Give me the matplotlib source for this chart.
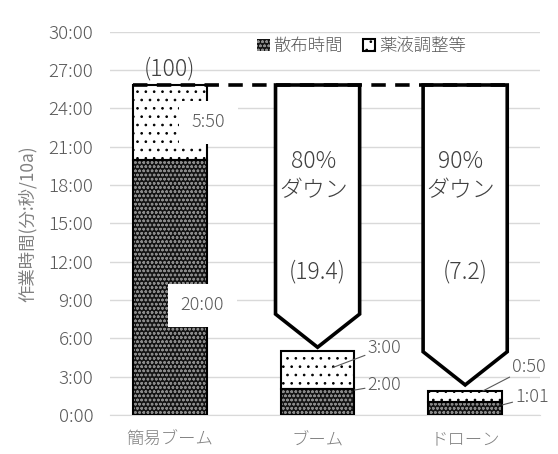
import matplotlib.pyplot as plt
from matplotlib.patches import Patch, Polygon
from matplotlib.ticker import FixedLocator, FuncFormatter

plt.rcParams['font.family'] = ['Noto Sans CJK JP', 'DejaVu Sans']
plt.rcParams['font.weight'] = 'light'
plt.rcParams['hatch.linewidth'] = 0.7

# work time per 10a, in minutes
categories = ['簡易ブーム', 'ブーム', 'ドローン']
spray_time = [20.0, 2.0, 1 + 1 / 60]
prep_time = [5 + 50 / 60, 3.0, 50 / 60]
spray_labels = ['20:00', '2:00', '1:01']
prep_labels = ['5:50', '3:00', '0:50']
index_labels = ['(100)', '(19.4)', '(7.2)']
down_labels = [None, '80%\nダウン', '90%\nダウン']
legend_names = ['散布時間', '薬液調整等']

GRID = '#d9d9d9'
TXT = '#595959'
DARK = '#141414'
DARK_HATCH = '#8a8a8a'

fig = plt.figure(figsize=(5.58, 4.54), dpi=100)
ax = fig.add_axes([0.197, 0.086, 0.771, 0.844])

x = list(range(len(categories)))
w = 0.5
totals = [a + b for a, b in zip(spray_time, prep_time)]

# dark patterned segment (light hatch on near-black), then dotted segment
ax.bar(x, spray_time, w, color=DARK, edgecolor=DARK_HATCH, hatch='oooo', lw=0, zorder=2)
ax.bar(x, prep_time, w, bottom=spray_time, color='white', edgecolor='black', hatch='..',
       lw=0, zorder=2)
ax.bar(x, spray_time, w, fill=False, edgecolor='black', lw=1.5, zorder=3)
ax.bar(x, prep_time, w, bottom=spray_time, fill=False, edgecolor='black', lw=1.5, zorder=3)

# reduction arrows from the baseline total down to each bar
base = totals[0]
hw = 0.285
shoulder = 2.6
gaps = [0, 0.3, 0.5]
for i in x[1:]:
    tip = totals[i] + gaps[i]
    pts = [(i - hw, base), (i - hw, tip + shoulder), (i, tip),
           (i + hw, tip + shoulder), (i + hw, base)]
    ax.add_patch(Polygon(pts, closed=True, facecolor='white', edgecolor='black',
                         lw=2.6, joinstyle='miter', zorder=4))
    ax.text(i - 0.03, 18.7, down_labels[i], ha='center', va='center', fontsize=16.5,
            color='#404040', linespacing=1.25, zorder=5)
    ax.text(i, 11.2, index_labels[i], ha='center', va='center', fontsize=16.5,
            color='#404040', zorder=5)

ax.plot([-w / 2, 2.32], [base, base], color='black', lw=2.6, dashes=(4, 2.6), zorder=5)
ax.text(0, 27.1, index_labels[0], ha='center', va='center', fontsize=16.5,
        color='#404040', zorder=5)

# value labels on the first bar, boxed in white
box = dict(facecolor='white', edgecolor='none', pad=9)
ax.text(0.26, spray_time[0] + prep_time[0] / 2, prep_labels[0], ha='center', va='center',
        fontsize=13, color=TXT, bbox=box, zorder=6)
ax.text(0.22, 8.6, spray_labels[0], ha='center', va='center', fontsize=13,
        color=TXT, bbox=box, zorder=6)

# leader-line labels for the small bars
lead = dict(arrowstyle='-', color='#595959', lw=0.8, shrinkA=0, shrinkB=0)
ax.annotate(prep_labels[1], xy=(1.1, 3.7), xytext=(1.34, 5.25), ha='left', va='center',
            fontsize=13, color=TXT, arrowprops=lead, zorder=6)
ax.annotate(spray_labels[1], xy=(1.25, 1.95), xytext=(1.34, 2.35), ha='left', va='center',
            fontsize=13, color=TXT, arrowprops=lead, zorder=6)
ax.annotate(prep_labels[2], xy=(2.12, 1.88), xytext=(2.32, 3.76), ha='left', va='center',
            fontsize=13, color=TXT, arrowprops=lead, zorder=6)
ax.annotate(spray_labels[2], xy=(2.25, 0.78), xytext=(2.34, 1.41), ha='left', va='center',
            fontsize=13, color=TXT, arrowprops=lead, zorder=6)

ax.set_xlim(-0.407, 2.508)
ax.set_ylim(0, 30)
ax.yaxis.set_major_locator(FixedLocator(range(0, 31, 3)))
ax.yaxis.set_major_formatter(FuncFormatter(lambda v, p: f'{int(v)}:00'))
ax.grid(axis='y', color=GRID, lw=1, zorder=0)
ax.set_axisbelow(True)
for s in ['left', 'right', 'top']:
    ax.spines[s].set_visible(False)
ax.spines['bottom'].set_color(GRID)
ax.tick_params(axis='y', length=0, labelsize=13.5, labelcolor=TXT, pad=12)
ax.tick_params(axis='x', length=0, labelsize=12.5, labelcolor='#808080', pad=11)
ax.set_xticks(x)
ax.set_xticklabels(categories)
ax.set_ylabel('作業時間(分:秒/10a)', fontsize=12.5, color='#808080', labelpad=8)

handles = [Patch(facecolor=DARK, edgecolor=DARK_HATCH, hatch='oooo', lw=0),
           Patch(facecolor='white', edgecolor='black', hatch='..', lw=1.5)]
ax.legend(handles, legend_names, loc='center', bbox_to_anchor=(0.585, 0.963), ncol=2,
          frameon=False, fontsize=12.5, labelcolor=TXT, handlelength=0.7,
          handleheight=0.7, handletextpad=0.2, columnspacing=1.2)

plt.savefig('out.png')
